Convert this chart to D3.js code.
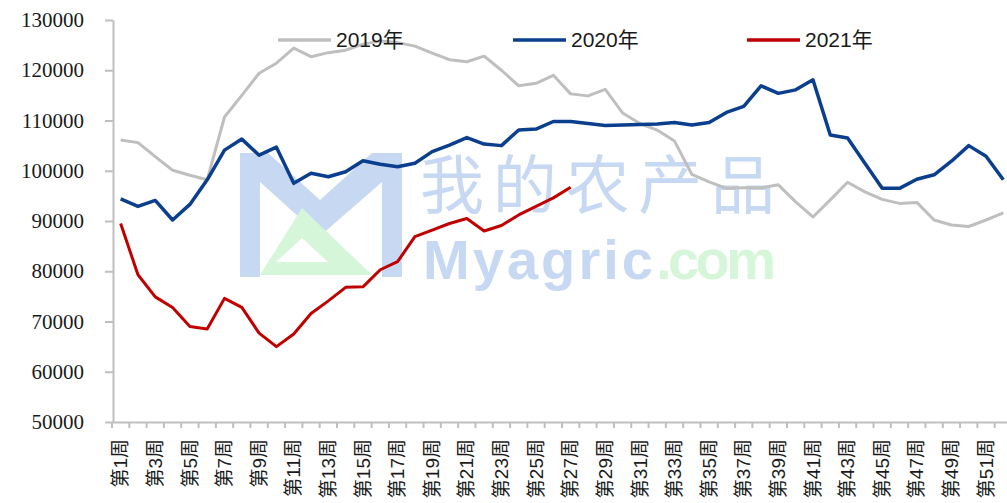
<!DOCTYPE html>
<html>
<head>
<meta charset="utf-8">
<script src="https://cdn.jsdelivr.net/npm/d3@7"></script>
<style>
body { margin: 0; background: #fff; }
svg { display: block; }
</style>
</head>
<body>
<svg id="chart" width="1007" height="503"></svg>
<script>
// categories
const weekLabels = [
    "第1周","第2周","第3周","第4周","第5周","第6周","第7周","第8周","第9周","第10周",
    "第11周","第12周","第13周","第14周","第15周","第16周","第17周","第18周","第19周","第20周",
    "第21周","第22周","第23周","第24周","第25周","第26周","第27周","第28周","第29周","第30周",
    "第31周","第32周","第33周","第34周","第35周","第36周","第37周","第38周","第39周","第40周",
    "第41周","第42周","第43周","第44周","第45周","第46周","第47周","第48周","第49周","第50周",
    "第51周","第52周"
];
// only every other week gets a label
const shownLabels = [
    "第1周","第3周","第5周","第7周","第9周","第11周","第13周","第15周","第17周","第19周",
    "第21周","第23周","第25周","第27周","第29周","第31周","第33周","第35周","第37周","第39周",
    "第41周","第43周","第45周","第47周","第49周","第51周"
];

const values2019 = [
    106100, 105600, 102800, 100100, 99100, 98200, 110700, 115000, 119400, 121400,
    124400, 122700, 123500, 124000, 125200, 125800, 125500, 124800, 123400, 122100,
    121700, 122800, 120000, 116900, 117400, 119000, 115300, 114900, 116200, 111500,
    109400, 108100, 105900, 99300, 97800, 96500, 96600, 96600, 97200, 93800,
    90800, 94200, 97700, 95800, 94300, 93500, 93700, 90200, 89200, 88900,
    90200, 91600
];
const values2020 = [
    94400, 92900, 94100, 90200, 93300, 98200, 104100, 106300, 103100, 104700,
    97500, 99500, 98800, 99800, 102000, 101300, 100800, 101500, 103800, 105100,
    106600, 105300, 105000, 108100, 108300, 109800, 109800, 109400, 109000, 109100,
    109200, 109300, 109600, 109100, 109600, 111600, 112800, 116900, 115400, 116100,
    118100, 107100, 106500, 101500, 96500, 96500, 98300, 99200, 101900, 105000,
    102900, 98200
];
const values2021 = [
    89500, 79300, 74900, 72800, 69000, 68500, 74600, 72800, 67700, 65000,
    67500, 71600, 74100, 76800, 76900, 80300, 81900, 86900, 88200, 89500,
    90500, 88000, 89100, 91200, 92900, 94600, 96700
];

const yTicks = [50000, 60000, 70000, 80000, 90000, 100000, 110000, 120000, 130000];
const seriesNames = ["2019年", "2020年", "2021年"];
const seriesColors = ["#bfbfbf", "#0b3f8e", "#c00000"];
const seriesValues = [values2019, values2020, values2021];

const svg = d3.select("#chart");

const x = d3.scaleBand()
    .domain(weekLabels)
    .range([112, 1012]);

const y = d3.scaleLinear()
    .domain([50000, 130000])
    .range([422, 20]);

const axisColor = "#bfbfbf";
const textColor = "#1a1a1a";

// watermark (logo + site name)
const wm = svg.append("g").attr("class", "watermark");
wm.append("path")
    .attr("fill", "#c6d8f2")
    .attr("d", "M240,153 L268,153 L320,200 L372,153 L402,153 L402,277 L382,277 L382,182 L320,236 L260,182 L260,277 L240,277 Z");
wm.append("path")
    .attr("fill", "#d6f6da")
    .attr("fill-rule", "evenodd")
    .attr("d", "M302,208 L372,275 L260,275 Z M302,238 L328,262 L276,262 Z");
wm.append("text")
    .attr("x", 420)
    .attr("y", 208)
    .attr("font-family", "'Noto Sans CJK SC', sans-serif")
    .attr("font-size", 64)
    .attr("fill", "#c6d8f2")
    .attr("textLength", 355)
    .text("我的农产品");
const wmText = wm.append("text")
    .attr("y", 279)
    .attr("font-family", "'Liberation Sans', Arial, sans-serif")
    .attr("font-weight", "bold")
    .attr("font-size", 56);
wmText.append("tspan")
    .attr("x", 423)
    .attr("fill", "#c6d8f2")
    .attr("textLength", 230)
    .text("Myagric");
wmText.append("tspan")
    .attr("x", 656)
    .attr("fill", "#d6f6da")
    .attr("textLength", 120)
    .text(".com");

// y axis
const yAxis = svg.append("g")
    .attr("transform", "translate(113,0)")
    .call(d3.axisLeft(y)
        .tickValues(yTicks)
        .tickFormat(d3.format("d"))
        .tickSize(8)
        .tickSizeOuter(0)
        .tickPadding(21));
yAxis.select(".domain").attr("stroke", axisColor).attr("stroke-width", 2);
yAxis.selectAll(".tick line").attr("stroke", axisColor).attr("stroke-width", 2);
yAxis.selectAll(".tick text")
    .attr("fill", textColor)
    .attr("font-family", "'Liberation Serif', 'Times New Roman', serif")
    .attr("font-size", 21);

// x axis
const xAxis = svg.append("g")
    .attr("transform", "translate(0,422)")
    .call(d3.axisBottom(x)
        .tickValues(shownLabels)
        .tickSize(0)
        .tickSizeOuter(0));
xAxis.select(".domain").attr("stroke", axisColor).attr("stroke-width", 2);
xAxis.selectAll(".tick text")
    .attr("fill", textColor)
    .attr("font-family", "'Liberation Sans', Arial, 'Noto Sans CJK SC', sans-serif")
    .attr("font-size", 19)
    .attr("transform", "rotate(-90)")
    .attr("text-anchor", "end")
    .attr("x", -17)
    .attr("y", 0)
    .attr("dy", "0.35em");

// boundary ticks between categories
const boundaries = weekLabels.map(w => x(w)).concat([x.range()[1]]);
xAxis.append("g")
    .selectAll("line")
    .data(boundaries)
    .join("line")
    .attr("x1", d => d)
    .attr("x2", d => d)
    .attr("y1", 0)
    .attr("y2", 6)
    .attr("stroke", axisColor)
    .attr("stroke-width", 2);

// series lines
const line = d3.line()
    .x((d, i) => x(weekLabels[i]) + x.bandwidth() / 2)
    .y(d => y(d));

svg.append("g")
    .selectAll("path")
    .data(seriesValues)
    .join("path")
    .attr("fill", "none")
    .attr("stroke", (d, i) => seriesColors[i])
    .attr("stroke-width", (d, i) => i === 1 ? 3.5 : 3)
    .attr("stroke-linejoin", "round")
    .attr("d", line);

// legend
const legendX = [278, 513, 747];
const legend = svg.append("g")
    .selectAll("g")
    .data(seriesNames)
    .join("g")
    .attr("transform", (d, i) => `translate(${legendX[i]},40)`);
legend.append("line")
    .attr("x1", 0)
    .attr("x2", 53)
    .attr("stroke", (d, i) => seriesColors[i])
    .attr("stroke-width", 3.5);
legend.append("text")
    .attr("x", 58)
    .attr("dy", "0.35em")
    .attr("fill", textColor)
    .attr("font-family", "'Liberation Sans', Arial, 'Noto Sans CJK SC', sans-serif")
    .attr("font-size", 21)
    .text(d => d);
</script>
</body>
</html>
